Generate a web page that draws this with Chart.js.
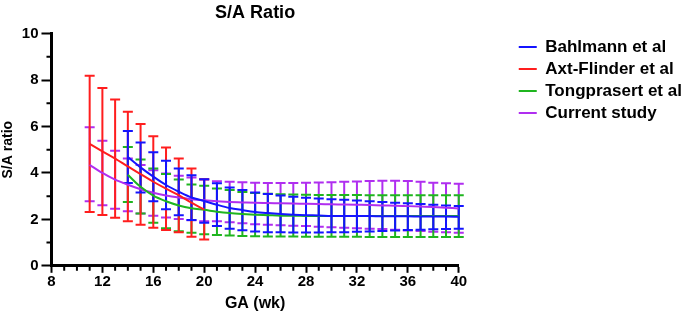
<!DOCTYPE html>
<html>
<head>
<meta charset="utf-8">
<script src="https://cdn.jsdelivr.net/npm/chart.js@4.4.0/dist/chart.umd.min.js"></script>
<style>
  html, body { margin: 0; padding: 0; background: #fff; }
  #wrap { width: 685px; height: 313px; }
</style>
</head>
<body>
<div id="wrap"><canvas id="myChart" width="685" height="313"></canvas></div>
<script>
// gestational age (weeks) for each study
const weeksAxt = [11, 12, 13, 14, 15, 16, 17, 18, 19, 20];
const weeksCurrent = [11, 12, 13, 14, 15, 16, 17, 18, 19, 20, 21, 22, 23, 24, 25, 26, 27, 28, 29, 30, 31, 32, 33, 34, 35, 36, 37, 38, 39, 40];
const weeksBahlmann = [14, 15, 16, 17, 18, 19, 20, 21, 22, 23, 24, 25, 26, 27, 28, 29, 30, 31, 32, 33, 34, 35, 36, 37, 38, 39, 40];
const weeksTong = [14, 15, 16, 17, 18, 19, 20, 21, 22, 23, 24, 25, 26, 27, 28, 29, 30, 31, 32, 33, 34, 35, 36, 37, 38, 39, 40];

// Bahlmann et al
const bahMean  = [4.69, 4.24, 3.84, 3.48, 3.19, 2.94, 2.79, 2.63, 2.49, 2.40, 2.32, 2.27, 2.23, 2.20, 2.18, 2.17, 2.15, 2.15, 2.14, 2.14, 2.13, 2.13, 2.13, 2.12, 2.12, 2.12, 2.11];
const bahUpper = [5.80, 5.31, 4.89, 4.52, 4.19, 3.90, 3.73, 3.55, 3.37, 3.26, 3.16, 3.09, 3.03, 2.97, 2.93, 2.90, 2.87, 2.84, 2.81, 2.78, 2.75, 2.72, 2.69, 2.66, 2.63, 2.60, 2.57];
const bahLower = [3.57, 3.16, 2.78, 2.44, 2.18, 1.97, 1.85, 1.71, 1.60, 1.53, 1.48, 1.45, 1.44, 1.43, 1.43, 1.43, 1.44, 1.45, 1.47, 1.48, 1.50, 1.52, 1.54, 1.55, 1.57, 1.59, 1.60];

// Axt-Flinder et al
const axtMean  = [5.25, 4.93, 4.62, 4.28, 3.95, 3.62, 3.32, 3.04, 2.72, 2.42];
const axtUpper = [8.18, 7.66, 7.16, 6.63, 6.11, 5.58, 5.09, 4.62, 4.19, 3.73];
const axtLower = [2.32, 2.19, 2.07, 1.92, 1.77, 1.64, 1.54, 1.45, 1.25, 1.13];

// Tongprasert et al
const tongMean  = [3.92, 3.40, 3.02, 2.78, 2.60, 2.48, 2.41, 2.33, 2.27, 2.23, 2.20, 2.18, 2.16, 2.16, 2.15, 2.15, 2.15, 2.14, 2.14, 2.14, 2.14, 2.14, 2.14, 2.14, 2.14, 2.14, 2.14];
const tongUpper = [5.12, 4.58, 4.19, 3.95, 3.72, 3.50, 3.45, 3.33, 3.26, 3.18, 3.14, 3.10, 3.08, 3.07, 3.06, 3.05, 3.05, 3.05, 3.05, 3.04, 3.04, 3.04, 3.04, 3.04, 3.04, 3.04, 3.04];
const tongLower = [2.75, 2.25, 1.85, 1.62, 1.49, 1.42, 1.36, 1.33, 1.30, 1.28, 1.27, 1.26, 1.26, 1.26, 1.25, 1.25, 1.25, 1.25, 1.25, 1.24, 1.24, 1.24, 1.24, 1.24, 1.24, 1.24, 1.24];

// Current study
const curMean  = [4.35, 4.00, 3.71, 3.49, 3.30, 3.15, 3.03, 2.94, 2.87, 2.82, 2.78, 2.75, 2.73, 2.71, 2.70, 2.69, 2.68, 2.67, 2.66, 2.65, 2.64, 2.63, 2.62, 2.60, 2.59, 2.57, 2.55, 2.53, 2.50, 2.47];
const curUpper = [5.97, 5.39, 4.96, 4.62, 4.34, 4.12, 3.97, 3.88, 3.80, 3.72, 3.64, 3.62, 3.60, 3.58, 3.57, 3.57, 3.57, 3.58, 3.59, 3.60, 3.62, 3.63, 3.65, 3.66, 3.66, 3.65, 3.62, 3.58, 3.55, 3.53];
const curLower = [2.78, 2.61, 2.46, 2.35, 2.25, 2.16, 2.08, 2.02, 1.96, 1.92, 1.92, 1.88, 1.83, 1.79, 1.77, 1.75, 1.73, 1.71, 1.68, 1.66, 1.64, 1.62, 1.60, 1.58, 1.55, 1.52, 1.50, 1.47, 1.45, 1.42];

const BLUE = '#1414ff', RED = '#ff1e1e', GREEN = '#1fb51f', PURPLE = '#b02ef0';

function pts(xs, ys) { return xs.map((x, i) => ({ x: x, y: ys[i] })); }

// drawn back to front
const barSets = [
  { weeks: weeksCurrent, upper: curUpper, lower: curLower, color: PURPLE },
  { weeks: weeksTong, upper: tongUpper, lower: tongLower, color: GREEN },
  { weeks: weeksAxt, upper: axtUpper, lower: axtLower, color: RED },
  { weeks: weeksBahlmann, upper: bahUpper, lower: bahLower, color: BLUE }
];

const errorBars = {
  id: 'errorBars',
  beforeDatasetsDraw(chart) {
    const ctx = chart.ctx, xs = chart.scales.x, ys = chart.scales.y;
    ctx.save();
    ctx.lineWidth = 2;
    barSets.forEach(s => {
      ctx.strokeStyle = s.color;
      ctx.beginPath();
      s.weeks.forEach((w, i) => {
        const px = xs.getPixelForValue(w);
        const top = ys.getPixelForValue(s.upper[i]);
        const bot = ys.getPixelForValue(s.lower[i]);
        ctx.moveTo(px, top); ctx.lineTo(px, bot);
        ctx.moveTo(px - 5, top); ctx.lineTo(px + 5, top);
        ctx.moveTo(px - 5, bot); ctx.lineTo(px + 5, bot);
      });
      ctx.stroke();
    });
    ctx.restore();
  }
};

// short ticks between the labelled ones
const minorTicks = {
  id: 'minorTicks',
  afterDraw(chart) {
    const ctx = chart.ctx, xs = chart.scales.x, ys = chart.scales.y;
    const a = chart.chartArea;
    ctx.save();
    ctx.strokeStyle = '#000';
    ctx.lineWidth = 2;
    ctx.beginPath();
    for (let w = xs.min; w <= xs.max; w++) {
      if ((w - xs.min) % 4 === 0) continue;
      const px = xs.getPixelForValue(w);
      ctx.moveTo(px, a.bottom); ctx.lineTo(px, a.bottom + 5);
    }
    for (let v = ys.min; v <= ys.max; v++) {
      if (v % 2 === 0) continue;
      const py = ys.getPixelForValue(v);
      ctx.moveTo(a.left - 5, py); ctx.lineTo(a.left, py);
    }
    ctx.stroke();
    ctx.restore();
  }
};

// leave white space between the plot and the legend
const GAP = 55;
const legendGap = {
  id: 'legendGap',
  beforeInit(chart) {
    const lg = chart.legend;
    const fit = lg.fit;
    lg.fit = function () { fit.call(this); this.width += GAP; };
  },
  afterLayout(chart) {
    chart.legend.left += GAP;
  }
};

Chart.defaults.font.family = '"Liberation Sans", Arial, sans-serif';
Chart.defaults.font.weight = 'bold';
Chart.defaults.color = '#000';

const lineDs = (label, xs, ys, color) => ({
  label: label,
  data: pts(xs, ys),
  borderColor: color,
  backgroundColor: color,
  borderWidth: 2,
  pointRadius: 0,
  cubicInterpolationMode: 'monotone',
  fill: false
});

const ctx = document.getElementById('myChart').getContext('2d');
const chart = new Chart(ctx, {
  type: 'line',
  data: {
    datasets: [
      lineDs('Bahlmann et al', weeksBahlmann, bahMean, BLUE),
      lineDs('Axt-Flinder et al', weeksAxt, axtMean, RED),
      lineDs('Tongprasert et al', weeksTong, tongMean, GREEN),
      lineDs('Current study', weeksCurrent, curMean, PURPLE)
    ]
  },
  options: {
    responsive: false,
    animation: false,
    devicePixelRatio: 1,
    layout: { padding: 0 },
    scales: {
      x: {
        type: 'linear',
        min: 8, max: 40,
        ticks: { stepSize: 4, padding: 0, font: { size: 15, weight: 'bold' } },
        grid: { drawOnChartArea: false, tickLength: 7, tickWidth: 2, tickColor: '#000' },
        border: { color: '#000', width: 3 },
        title: { display: true, text: 'GA (wk)', font: { size: 16, weight: 'bold' }, padding: { top: 3, bottom: 0 } }
      },
      y: {
        min: 0, max: 10,
        ticks: { stepSize: 2, padding: 3, font: { size: 15, weight: 'bold' } },
        grid: { drawOnChartArea: false, tickLength: 10, tickWidth: 2, tickColor: '#000' },
        border: { color: '#000', width: 3 },
        title: { display: true, text: 'S/A ratio', font: { size: 14, weight: 'bold' }, padding: { top: 0, bottom: 2 } }
      }
    },
    plugins: {
      title: {
        display: true,
        text: 'S/A Ratio',
        fullSize: false,
        font: { size: 18, weight: 'bold' },
        padding: { top: 2, bottom: 10 }
      },
      legend: {
        position: 'right',
        align: 'start',
        fullSize: false,
        labels: {
          boxWidth: 18,
          boxHeight: 2,
          padding: 5,
          font: { size: 17, weight: 'bold' },
          color: '#000',
          generateLabels(chart) {
            return Chart.defaults.plugins.legend.labels.generateLabels(chart)
              .map(l => Object.assign(l, { lineWidth: 0 }));
          }
        }
      },
      tooltip: { enabled: false }
    }
  },
  plugins: [errorBars, minorTicks, legendGap]
});
</script>
</body>
</html>
